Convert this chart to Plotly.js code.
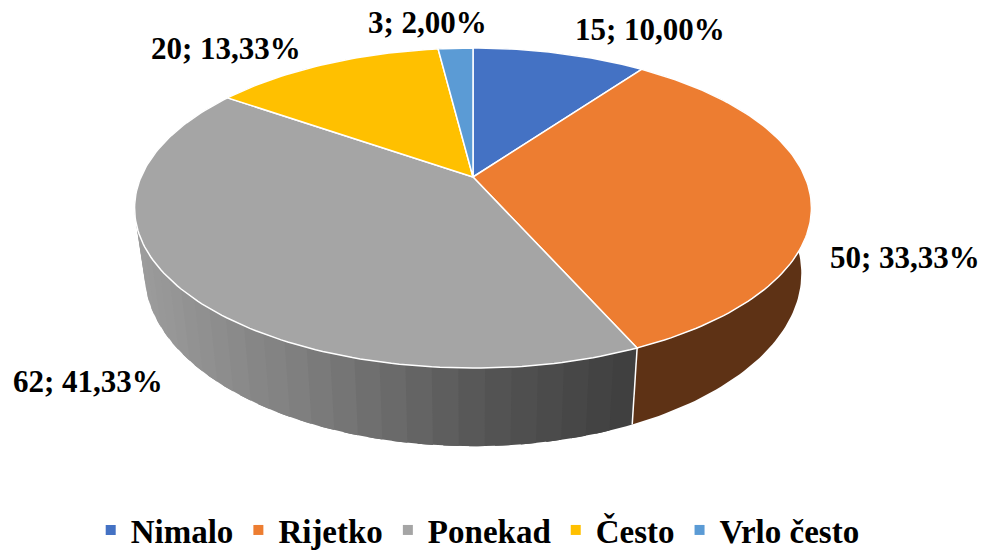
<!DOCTYPE html>
<html>
<head>
<meta charset="utf-8">
<script src="https://cdn.plot.ly/plotly-3.0.1.min.js"></script>
<style>
html,body{margin:0;padding:0;background:#fff;}
#chart{width:987px;height:558px;}
#chart .annotation-text, #chart .legendtext{font-family:'Liberation Serif' !important;}
</style>
</head>
<body>
<div id="chart"></div>
<script>
// ---- data ----
const categories = ['Nimalo', 'Rijetko', 'Ponekad', 'Često', 'Vrlo često'];
const values = [15, 50, 62, 20, 3];

// ---- style ----
const topColors = ['#4472C4', '#ED7D31', '#A5A5A5', '#FFC000', '#5B9BD5'];
const sideColors = ['#22395F', '#5E3215', '#808080', '#7F6000', '#2D4D6A'];
const labelShift = [[90, -24], [95, 64], [-93, 92], [-99, -16], [-28, -26]];
const graySideStops = [[0, [156, 156, 156]], [0.35, [124, 124, 124]], [0.7, [85, 85, 85]], [1, [62, 62, 62]]];
const FONT = 'Liberation Serif';

// ---- projection (tilted disc with perspective) ----
const CX = 473, CY = 177, RX = 332, RY = 154, K = 0.194, D = 63, XB = 0.97;
function proj(theta, f, bottom) {
  const u = Math.sin(theta) * f, v = Math.cos(theta) * f;
  const s = 1 / (1 + K * v);
  let x = CX + RX * u * s, y = CY - RY * v * s;
  if (bottom) { x = CX + (x - CX) * XB; y += D * s; }
  return [x, y];
}

const total = values.reduce((a, b) => a + b, 0);
const bounds = [0];
values.forEach(v => bounds.push(bounds[bounds.length - 1] + v / total * 2 * Math.PI));

function arc(a, b, bottom) {
  const n = Math.max(2, Math.ceil((b - a) / 0.02));
  const pts = [];
  for (let i = 0; i <= n; i++) pts.push(proj(a + (b - a) * i / n, 1, bottom));
  return pts;
}
function band(a, b) {
  return arc(a, b, false).concat(arc(a, b, true).reverse());
}
function grayAt(t) {
  t = Math.max(0, Math.min(1, t));
  for (let j = 1; j < graySideStops.length; j++) {
    const [t0, c0] = graySideStops[j - 1], [t1, c1] = graySideStops[j];
    if (t <= t1) {
      const f = (t - t0) / (t1 - t0);
      const c = c0.map((c, k) => Math.round(c + (c1[k] - c) * f));
      return 'rgb(' + c.join(',') + ')';
    }
  }
  return 'rgb(62,62,62)';
}

const traces = [];
// sides
values.forEach((v, i) => {
  const a = bounds[i], b = bounds[i + 1];
  if (i === 2) {
    const xs = arc(a, b, false).map(p => p[0]);
    const xmin = Math.min(...xs), xmax = Math.max(...xs);
    const n = 40, step = (b - a) / n;
    for (let j = 0; j < n; j++) {
      const s0 = a + j * step, s1 = Math.min(b, s0 + step * 1.6);
      const pts = band(s0, s1);
      const xm = proj(s0 + step / 2, 1, false)[0];
      traces.push({type: 'scatter', mode: 'lines', x: pts.map(p => p[0]), y: pts.map(p => p[1]),
        fill: 'toself', fillcolor: grayAt((xm - xmin) / (xmax - xmin)), line: {width: 0},
        showlegend: false, hoverinfo: 'skip'});
    }
  } else {
    const pts = band(a, b);
    traces.push({type: 'scatter', mode: 'lines', x: pts.map(p => p[0]), y: pts.map(p => p[1]),
      fill: 'toself', fillcolor: sideColors[i], line: {width: 0}, showlegend: false, hoverinfo: 'skip'});
  }
});
// vertical white edges at slice boundaries
for (let i = 0; i < values.length; i++) {
  const t = proj(bounds[i], 1, false), b = proj(bounds[i], 1, true);
  traces.push({type: 'scatter', mode: 'lines', x: [t[0], b[0]], y: [t[1], b[1]],
    line: {color: '#ffffff', width: 1.5}, showlegend: false, hoverinfo: 'skip'});
}
// tops
values.forEach((v, i) => {
  const a = bounds[i], b = bounds[i + 1];
  const pts = [[CX, CY]].concat(arc(a, b, false)).concat([[CX, CY]]);
  traces.push({
    type: 'scatter', mode: 'lines', x: pts.map(p => p[0]), y: pts.map(p => p[1]),
    fill: 'toself', fillcolor: topColors[i], line: {color: '#ffffff', width: 1.5},
    showlegend: false, hoverinfo: 'skip'
  });
});
// legend entries
categories.forEach((c, i) => {
  traces.push({type: 'scatter', mode: 'markers', x: [null], y: [null], name: '<b>' + c + '</b>',
    marker: {symbol: 'square', size: 10, color: topColors[i]}, showlegend: true, hoverinfo: 'skip'});
});

// labels
const annotations = values.map((v, i) => {
  const mid = (bounds[i] + bounds[i + 1]) / 2;
  const p = proj(mid, 1, false);
  const pct = (v / total * 100).toFixed(2).replace('.', ',');
  return {
    x: p[0] + labelShift[i][0], y: p[1] + labelShift[i][1], xref: 'x', yref: 'y',
    text: '<b>' + v + '; ' + pct + '%</b>', showarrow: false, xanchor: 'center', yanchor: 'middle',
    font: {family: FONT, size: 31, color: '#000000'}
  };
});

const layout = {
  width: 987, height: 558,
  margin: {l: 0, r: 0, t: 0, b: 0},
  xaxis: {range: [0, 987], visible: false},
  yaxis: {range: [558, 0], visible: false},
  showlegend: true,
  legend: {orientation: 'h', x: 0.484, xanchor: 'center', y: 0, yanchor: 'bottom',
    font: {family: FONT, size: 33, color: '#000000'}},
  annotations: annotations
};

Plotly.newPlot('chart', traces, layout, {staticPlot: true}).then(() => {
  if (document.fonts && document.fonts.load) {
    document.fonts.load('bold 31px "Liberation Serif"', '15; 10,00% Često').then(() => {
      Plotly.redraw('chart');
    });
  }
});
</script>
</body>
</html>
